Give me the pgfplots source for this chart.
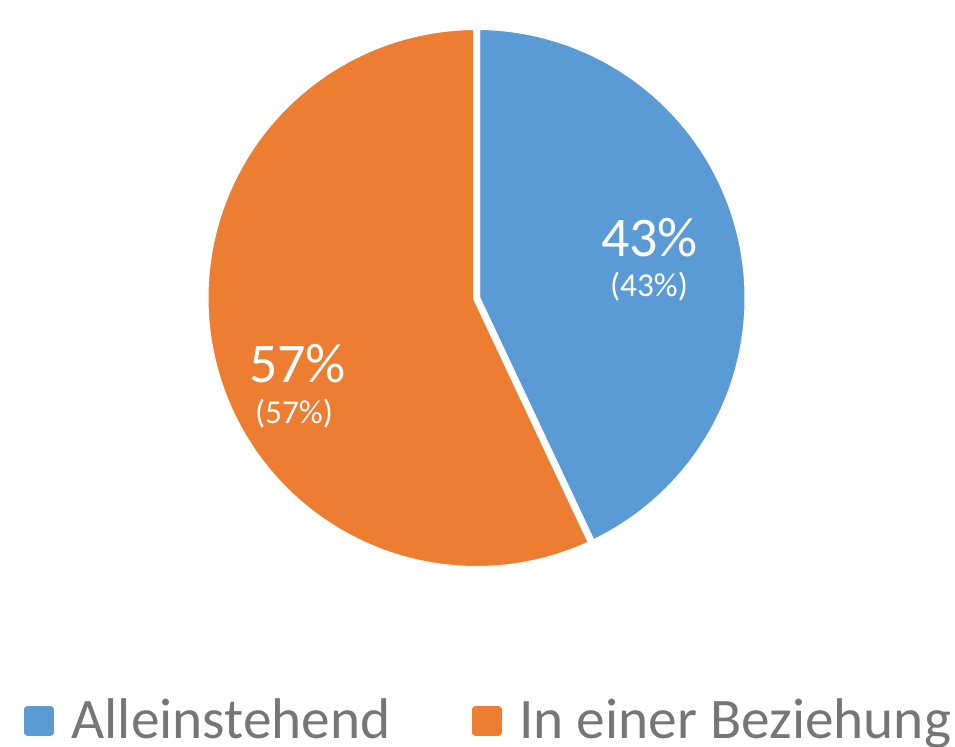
\documentclass[border=0pt]{standalone}
\usepackage{fontspec}
\setmainfont{Carlito}
\usepackage{pgfplots}
\pgfplotsset{compat=1.18}
\definecolor{cblue}{HTML}{5B9BD5}
\definecolor{corange}{HTML}{ED7D31}
\definecolor{legtext}{HTML}{767676}
\def\valA{43}
\def\valB{57}
\pgfmathsetmacro\aEnd{90-\valA*3.6}
\pgfmathsetmacro\bEnd{\aEnd-\valB*3.6}
\def\cx{476.5}
\def\cy{448}
\def\rr{271.5}
\begin{document}
\begin{tikzpicture}
\begin{axis}[
  x=0.75pt, y=0.75pt,
  xmin=0, xmax=955, ymin=0, ymax=746,
  hide axis, clip=false,
  legend columns=2,
  legend style={at={(axis cs:20,26)}, anchor=west, draw=none, fill=none,
    font=\fontsize{43}{50}\selectfont\color{legtext},
    /tikz/every even column/.append style={column sep=59pt},
    /tikz/every odd column/.append style={column sep=0pt}},
  legend cell align=left,
]
\addplot[fill=cblue, draw=white, line width=5.25pt, line join=round, domain=\aEnd:90, samples=150,
  legend image code/.code={\fill[cblue] (0pt,-9pt) rectangle (17pt,8pt); \path (28.25pt,0pt);}]
  ({\cx+\rr*cos(x)},{\cy+\rr*sin(x)}) -- (axis cs:\cx,\cy) -- cycle;
\addlegendentry{Alleinstehend}
\addplot[fill=corange, draw=white, line width=5.25pt, line join=round, domain=\bEnd:\aEnd, samples=200,
  legend image code/.code={\fill[corange] (0pt,-9pt) rectangle (17pt,8pt); \path (28.25pt,0pt);}]
  ({\cx+\rr*cos(x)},{\cy+\rr*sin(x)}) -- (axis cs:\cx,\cy) -- cycle;
\addlegendentry{In einer Beziehung}
\node[anchor=base, white, font=\fontsize{42}{50}\selectfont] at (axis cs:649.5,489) {\valA\%};
\node[anchor=base, white, font=\fontsize{25}{30}\selectfont] at (axis cs:649,449) {(\valA\%)};
\node[anchor=base, white, font=\fontsize{42}{50}\selectfont] at (axis cs:297.5,363) {\valB\%};
\node[anchor=base, white, font=\fontsize{25}{30}\selectfont] at (axis cs:294,322) {(\valB\%)};
\end{axis}
\pgfresetboundingbox
\path (current axis.south west) rectangle (current axis.north east);
\end{tikzpicture}
\end{document}
